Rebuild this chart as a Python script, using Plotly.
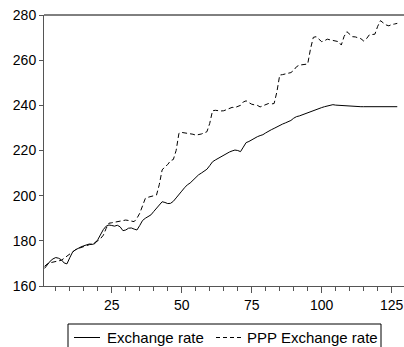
import plotly.graph_objects as go

periods = list(range(1, 128))

exchange_rate = [
    167.8, 169.5, 171.0, 172.0, 172.6, 172.3, 171.6, 170.2, 169.8, 172.5,
    175.0, 176.0, 176.8, 177.3, 177.8, 178.3, 178.6, 178.4, 178.8, 180.5,
    183.0, 185.0, 186.5, 187.0, 186.8, 186.5, 186.9, 186.2, 184.5, 184.8,
    185.6, 185.7, 185.2, 184.8, 186.8, 189.0, 190.0, 190.8, 191.5, 193.0,
    194.5, 196.0, 197.3, 197.0, 196.5, 196.6, 197.5, 199.0, 200.3, 202.0,
    203.5, 204.8, 205.6, 206.8, 208.3, 209.2, 210.0, 210.8, 211.7, 213.3,
    215.0, 215.8, 216.5, 217.2, 218.0, 218.8, 219.3, 219.8, 220.2, 220.0,
    219.5, 221.5, 223.5, 224.0, 224.8, 225.5, 226.1, 226.6, 227.0, 227.8,
    228.6, 229.2, 229.8, 230.5, 231.2, 231.7, 232.2, 232.6, 233.3, 234.3,
    235.0, 235.3, 235.8, 236.2, 236.6, 237.2, 237.7, 238.2, 238.6, 239.0,
    239.4, 239.8, 240.2, 240.3, 240.1, 240.0, 240.0, 239.9, 239.7, 239.5,
    239.4, 239.4, 239.4, 239.4, 239.4, 239.4, 239.4, 239.4, 239.4, 239.4,
    239.4, 239.4, 239.4, 239.4, 239.4, 239.4, 239.4,
]

ppp_exchange_rate = [
    168.7, 169.8, 170.3, 170.6, 170.8, 171.1, 171.4, 172.3, 173.2, 174.5,
    175.3, 176.0, 176.6, 177.1, 177.6, 178.0, 178.3, 178.6, 179.2, 180.0,
    181.0, 182.5, 185.5, 187.8, 188.0, 188.2, 188.5, 188.6, 189.0, 189.2,
    189.0, 188.7, 188.5, 190.0, 192.2, 195.5, 198.8, 199.3, 199.6, 199.9,
    200.3, 205.0, 211.4, 212.8, 213.8, 215.5, 216.0, 220.0, 227.6, 228.0,
    227.8, 227.6, 227.6, 227.2, 226.8, 226.9, 227.3, 227.8, 228.3, 232.0,
    237.6, 237.8, 237.6, 237.5, 237.6, 238.2, 238.8, 239.1, 239.0, 239.5,
    240.0, 241.5, 242.0, 241.2, 240.5, 240.2, 240.0, 239.3, 239.8, 240.2,
    240.8, 240.6, 240.8, 246.0, 253.4, 253.6, 254.0, 254.3, 254.5, 255.5,
    257.1, 257.8, 258.0, 258.2, 258.3, 265.0, 270.1, 270.4, 269.2, 268.2,
    268.6, 269.3, 269.0, 268.7, 268.5, 268.2, 266.7, 270.5, 272.6, 271.5,
    270.4, 270.3, 270.0, 269.5, 268.5, 269.5, 271.2, 271.4, 271.5, 275.0,
    277.5, 276.5, 275.6, 275.2, 275.8, 276.0, 276.3,
]

series_names = ["Exchange rate", "PPP Exchange rate"]
x_ticks = [25, 50, 75, 100, 125]
y_ticks = [160, 180, 200, 220, 240, 260, 280]

DASH = "5px,3px"

fig = go.Figure()
fig.add_trace(go.Scatter(x=periods, y=exchange_rate, mode="lines",
                         name=series_names[0],
                         line=dict(color="black", width=1)))
fig.add_trace(go.Scatter(x=periods, y=ppp_exchange_rate, mode="lines",
                         name=series_names[1],
                         line=dict(color="black", width=1, dash=DASH)))

font_family = "Liberation Sans, Arial, sans-serif"
axis_col = "#555555"

# plot area geometry (pixels) for converting legend placement to paper coords
L, T, W, H = 44, 15, 360, 271
def px(x):
    return (x - L) / W
def py(y):
    return (T + H - y) / H

line_y = 337.5
text_y = 337.5
shapes = [
    dict(type="line", xref="paper", yref="paper", x0=0, x1=1, y0=1, y1=1,
         line=dict(color="black", width=1)),
    dict(type="rect", xref="paper", yref="paper", x0=px(68), x1=px(381),
         y0=py(324), y1=py(356), line=dict(color="black", width=1),
         fillcolor="rgba(0,0,0,0)"),
    dict(type="line", xref="paper", yref="paper", x0=px(74), x1=px(100),
         y0=py(line_y), y1=py(line_y), line=dict(color="black", width=1)),
    dict(type="line", xref="paper", yref="paper", x0=px(216), x1=px(242),
         y0=py(line_y), y1=py(line_y),
         line=dict(color="black", width=1, dash="4px,3px")),
]
annotations = [
    dict(text=series_names[0], xref="paper", yref="paper", x=px(105), y=py(text_y),
         xanchor="left", yanchor="middle", showarrow=False,
         font=dict(size=15, color="black")),
    dict(text=series_names[1], xref="paper", yref="paper", x=px(245), y=py(text_y),
         xanchor="left", yanchor="middle", showarrow=False,
         font=dict(size=15, color="black")),
]

fig.update_layout(
    width=404, height=347,
    margin=dict(l=L, r=0, t=T, b=347 - T - H),
    paper_bgcolor="white", plot_bgcolor="white",
    font=dict(family=font_family, size=14, color="black"),
    showlegend=False,
    xaxis=dict(range=[0.8, 129.4], tickvals=x_ticks, ticks="outside", ticklen=6,
               tickcolor=axis_col, showline=True, linecolor=axis_col, linewidth=1,
               showgrid=False, zeroline=False,
               minor=dict(dtick=5, tick0=0, ticks="outside", ticklen=4,
                          tickcolor=axis_col, showgrid=False)),
    yaxis=dict(range=[160, 280], tickvals=y_ticks, ticks="outside", ticklen=4,
               tickcolor=axis_col, showline=True, linecolor=axis_col, linewidth=1,
               showgrid=False, zeroline=False),
    shapes=shapes,
    annotations=annotations,
)

fig.write_html("out.html")
